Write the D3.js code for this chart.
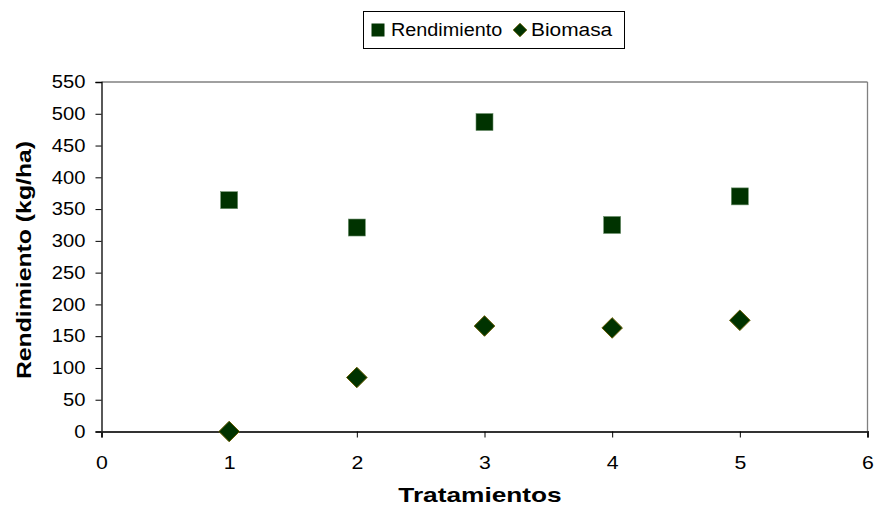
<!DOCTYPE html>
<html>
<head>
<meta charset="utf-8">
<script src="https://cdn.jsdelivr.net/npm/d3@7"></script>
<style>
  html, body { margin: 0; padding: 0; background: #fff; }
  svg { display: block; font-family: "Liberation Sans", Arial, sans-serif; }
</style>
</head>
<body>
<svg id="chart" width="876" height="506"></svg>
<script>
const tratamientos = [1, 2, 3, 4, 5];
const rendimiento = [364, 321, 487, 325, 370];
const biomasa = [0, 85, 166, 163, 175];
const xTicks = [0, 1, 2, 3, 4, 5, 6];
const yTicks = [0, 50, 100, 150, 200, 250, 300, 350, 400, 450, 500, 550];
const seriesNames = ["Rendimiento", "Biomasa"];

const svg = d3.select("#chart");
const m = { left: 101.5, right: 867.5, top: 82, bottom: 431.5 };

const x = d3.scaleLinear().domain([0, 6]).range([m.left, m.right]);
const y = d3.scaleLinear().domain([0, 550]).range([m.bottom, m.top]);

// stretch text horizontally like the original
function stretch(sel, f) {
  sel.each(function () {
    const w = this.getComputedTextLength();
    d3.select(this).attr("textLength", w * f).attr("lengthAdjust", "spacingAndGlyphs");
  });
}

// plot frame (top & right gray)
svg.append("line").attr("x1", m.left).attr("x2", m.right).attr("y1", m.top).attr("y2", m.top)
  .attr("stroke", "#808080").attr("stroke-width", 1.3);
svg.append("line").attr("x1", m.right).attr("x2", m.right).attr("y1", m.top).attr("y2", m.bottom)
  .attr("stroke", "#808080").attr("stroke-width", 1.3);

// y axis
const yAxis = svg.append("g").attr("transform", `translate(${m.left},0)`)
  .call(d3.axisLeft(y).tickValues(yTicks).tickSize(6).tickPadding(10).tickFormat(d3.format("d")));
yAxis.select(".domain").attr("stroke", "#000").attr("stroke-width", 1.3);
yAxis.selectAll(".tick line").attr("stroke", "#000");
yAxis.selectAll("text").attr("font-size", 18).attr("fill", "#000")
  .attr("font-family", "Liberation Sans, Arial, sans-serif").call(stretch, 1.12);

// x axis
const xAxis = svg.append("g").attr("transform", `translate(0,${m.bottom})`)
  .call(d3.axisBottom(x).tickValues(xTicks).tickSize(6).tickPadding(18).tickFormat(d3.format("d")));
xAxis.select(".domain").attr("stroke", "#333").attr("stroke-width", 2);
xAxis.selectAll(".tick line").attr("stroke", "#000");
xAxis.selectAll("text").attr("font-size", 18.5).attr("fill", "#000")
  .attr("font-family", "Liberation Sans, Arial, sans-serif").call(stretch, 1.15);

// axis titles
svg.append("text").attr("x", 480).attr("y", 502)
  .attr("text-anchor", "middle").attr("font-size", 21).attr("font-weight", "bold")
  .text("Tratamientos").call(stretch, 1.25);
svg.append("text").attr("transform", `translate(31,260) rotate(-90)`)
  .attr("text-anchor", "middle").attr("font-size", 21).attr("font-weight", "bold")
  .text("Rendimiento (kg/ha)").call(stretch, 1.18);

const fillColor = "#003300";
const sq = 17;
const diamond = d3.symbol().type(d3.symbolDiamond2).size(270);

// Rendimiento squares
svg.append("g").selectAll("rect").data(tratamientos.map((t, i) => [t, rendimiento[i]]))
  .join("rect")
  .attr("x", d => x(d[0]) - sq / 2).attr("y", d => y(d[1]) - sq / 2)
  .attr("width", sq).attr("height", sq)
  .attr("fill", fillColor).attr("stroke", "#6b8f6b").attr("stroke-width", 0.6);

// Biomasa diamonds
svg.append("g").selectAll("path").data(tratamientos.map((t, i) => [t, biomasa[i]]))
  .join("path")
  .attr("d", diamond)
  .attr("transform", d => `translate(${x(d[0])},${y(d[1])})`)
  .attr("fill", fillColor).attr("stroke", "#665c00").attr("stroke-width", 1);

// legend
const lg = svg.append("g");
lg.append("rect").attr("x", 363.5).attr("y", 11.5).attr("width", 261).attr("height", 37)
  .attr("fill", "#fff").attr("stroke", "#000").attr("stroke-width", 1);
lg.append("rect").attr("x", 371.5).attr("y", 23.5).attr("width", 13).attr("height", 13)
  .attr("fill", fillColor);
lg.append("text").attr("x", 391).attr("y", 36).attr("font-size", 18).text(seriesNames[0]).call(stretch, 1.1);
lg.append("path").attr("d", d3.symbol().type(d3.symbolDiamond2).size(120))
  .attr("transform", "translate(520,30)")
  .attr("fill", fillColor).attr("stroke", "#665c00").attr("stroke-width", 0.8);
lg.append("text").attr("x", 531).attr("y", 36).attr("font-size", 18).text(seriesNames[1]).call(stretch, 1.16);
</script>
</body>
</html>
